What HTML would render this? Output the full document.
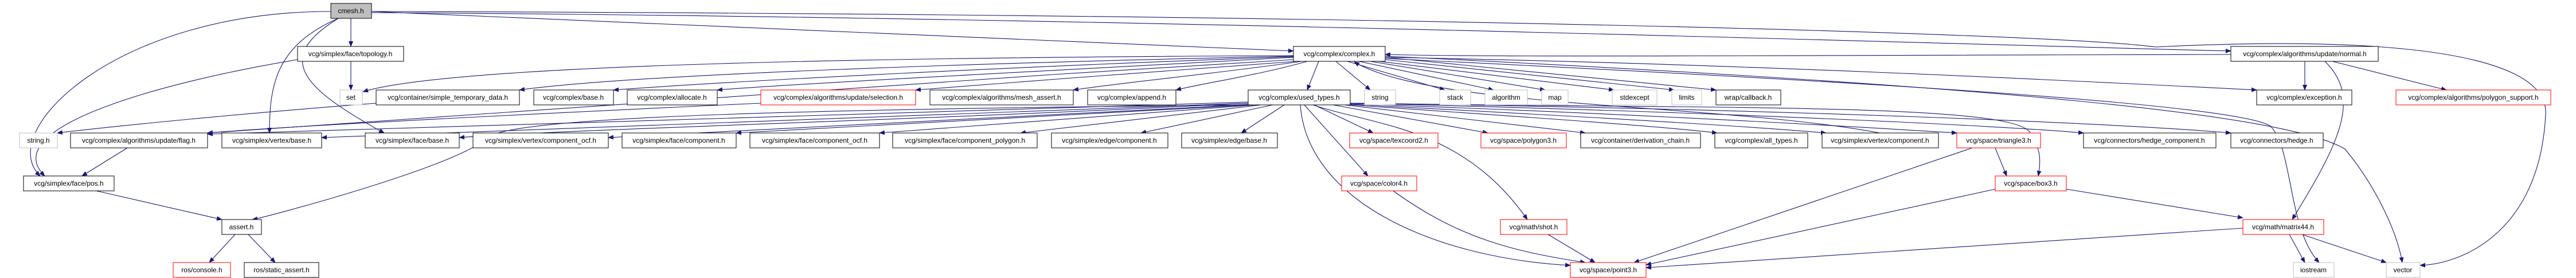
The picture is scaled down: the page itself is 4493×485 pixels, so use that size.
<!DOCTYPE html>
<html><head><meta charset="utf-8"><style>
html,body{margin:0;padding:0;background:#fff;}
svg{display:block;}
text{font-family:"Liberation Sans",sans-serif;font-size:12px;fill:#000;}
.e{fill:none;stroke:#191970;stroke-width:1.1;marker-end:url(#a);}
.n{fill:#fff;stroke:#000;stroke-width:1;}
.r{fill:#fff;stroke:#ff0000;stroke-width:1;}
.g{fill:#fff;stroke:#bfbfbf;stroke-width:1;}
</style></head><body>
<svg width="4493" height="485" viewBox="0 0 4493 485" xmlns="http://www.w3.org/2000/svg">
<defs><marker id="a" markerWidth="10" markerHeight="8" refX="9" refY="4" orient="auto" markerUnits="userSpaceOnUse"><path d="M0,0 L10,4 L0,8 z" fill="#191970"/></marker></defs>
<g>
<path class="e" d="M612,32 L612,81"/>
<path class="e" d="M577,20 C200,20 -10,230 70,307"/>
<path class="e" d="M519,104 C300,140 -10,220 78,307"/>
<path class="e" d="M590,32 C480,80 470,150 470,232"/>
<path class="e" d="M590,32 C480,100 520,150 670,232"/>
<path class="e" d="M648,20 L2256,89"/>
<path class="e" d="M648,22 C2000,30 3500,80 3891,89"/>
<path class="e" d="M648,20 C2500,25 3600,60 3760,82 C3900,75 4450,50 4440,200 C4430,400 4300,460 4221,463"/>
<path class="e" d="M612,107 L612,157"/>
<path class="e" d="M2256,97 C1600,100 800,110 633,160"/>
<path class="e" d="M2256,98 C1700,110 1100,130 906,157"/>
<path class="e" d="M2256,99 C1800,115 1300,140 1070,157"/>
<path class="e" d="M2256,100 C1900,120 1400,145 1251,157"/>
<path class="e" d="M2262,107 C2100,120 1800,140 1597,157"/>
<path class="e" d="M2270,107 C2150,125 1950,145 1872,157"/>
<path class="e" d="M2280,107 C2200,130 2100,145 2051,157"/>
<path class="e" d="M2300,107 L2280,157"/>
<path class="e" d="M2330,107 L2390,157"/>
<path class="e" d="M2350,107 L2520,157"/>
<path class="e" d="M2370,107 L2605,157"/>
<path class="e" d="M2390,107 L2695,157"/>
<path class="e" d="M2405,107 L2815,157"/>
<path class="e" d="M2416,104 L2920,157"/>
<path class="e" d="M2416,100 L2993,157"/>
<path class="e" d="M2416,100 C3000,110 3600,140 3936,157"/>
<path class="e" d="M2416,102 C3200,140 3900,180 3960,220 C4000,260 3990,400 4045,458"/>
<path class="e" d="M2416,98 C3500,150 3990,200 4090,260 C4140,320 4180,400 4190,458"/>
<path class="e" d="M3891,95 C3000,97 2600,100 2416,95"/>
<path class="e" d="M3279,232 C3000,180 2500,190 2362,108"/>
<path class="e" d="M656,180 C400,200 200,220 100,232"/>
<path class="e" d="M1327,180 C900,200 500,220 362,232"/>
<path class="e" d="M2256,104 C1500,150 600,210 362,232"/>
<path class="e" d="M2177,178 C1500,200 600,225 362,234"/>
<path class="e" d="M2177,180 C1500,205 800,230 561,240"/>
<path class="e" d="M2177,180 C1600,210 1000,225 801,240"/>
<path class="e" d="M2177,183 C1500,190 900,200 850,240 C800,290 460,380 440,383"/>
<path class="e" d="M2177,182 C1700,210 1200,230 1061,240"/>
<path class="e" d="M2180,183 C1800,205 1400,225 1284,232"/>
<path class="e" d="M2190,183 C1900,205 1650,222 1534,232"/>
<path class="e" d="M2200,183 L1780,232"/>
<path class="e" d="M2220,183 L1990,232"/>
<path class="e" d="M2240,183 L2165,232"/>
<path class="e" d="M2292,183 L2395,232"/>
<path class="e" d="M2325,183 L2595,232"/>
<path class="e" d="M2345,183 L2765,232"/>
<path class="e" d="M2355,183 C2600,200 2900,220 2995,232"/>
<path class="e" d="M2355,182 C2700,200 3050,220 3185,232"/>
<path class="e" d="M2355,181 C2900,200 3300,225 3413,232"/>
<path class="e" d="M2355,180 C3000,195 3500,220 3634,232"/>
<path class="e" d="M2355,180 C3100,190 3700,215 3891,232"/>
<path class="e" d="M2355,180 C3000,190 3500,180 3540,230 C3560,260 3560,280 3555,307"/>
<path class="e" d="M2275,183 L2386,307"/>
<path class="e" d="M2290,183 C2400,220 2550,220 2664,383"/>
<path class="e" d="M2268,183 C2280,350 2500,450 2739,463"/>
<path class="e" d="M222,258 L143,307"/>
<path class="e" d="M168,333 L387,383"/>
<path class="e" d="M410,409 L365,458"/>
<path class="e" d="M433,409 L480,458"/>
<path class="e" d="M2430,333 C2550,420 2650,440 2765,458"/>
<path class="e" d="M2700,409 L2782,458"/>
<path class="e" d="M3440,258 L2850,458"/>
<path class="e" d="M3480,258 L3500,307"/>
<path class="e" d="M3480,330 L2871,462"/>
<path class="e" d="M3604,330 L3912,380"/>
<path class="e" d="M3912,398 L2871,467"/>
<path class="e" d="M3993,409 L4020,458"/>
<path class="e" d="M4015,409 L4162,458"/>
<path class="e" d="M4020,107 L4020,157"/>
<path class="e" d="M4068,107 L4267,157"/>
<path class="e" d="M4055,107 C4120,170 4080,250 3998,383"/>
</g>
<g>
<rect x="577" y="6" width="71" height="26" fill="#bfbfbf" stroke="#000"/><text x="612" y="23" text-anchor="middle">cmesh.h</text>
<rect class="n" x="519" y="81" width="185" height="26"/><text x="611" y="98" text-anchor="middle">vcg/simplex/face/topology.h</text>
<rect class="n" x="2256" y="81" width="160" height="26"/><text x="2336" y="98" text-anchor="middle">vcg/complex/complex.h</text>
<rect class="n" x="3891" y="81" width="257" height="26"/><text x="4020" y="98" text-anchor="middle">vcg/complex/algorithms/update/normal.h</text>

<rect class="g" x="593" y="157" width="39" height="26"/><text x="612" y="174" text-anchor="middle">set</text>
<rect class="n" x="656" y="157" width="250" height="26"/><text x="781" y="174" text-anchor="middle">vcg/container/simple_temporary_data.h</text>
<rect class="n" x="931" y="157" width="139" height="26"/><text x="1000" y="174" text-anchor="middle">vcg/complex/base.h</text>
<rect class="n" x="1094" y="157" width="157" height="26"/><text x="1172" y="174" text-anchor="middle">vcg/complex/allocate.h</text>
<rect class="r" x="1327" y="157" width="270" height="26"/><text x="1462" y="174" text-anchor="middle">vcg/complex/algorithms/update/selection.h</text>
<rect class="n" x="1622" y="157" width="250" height="26"/><text x="1747" y="174" text-anchor="middle">vcg/complex/algorithms/mesh_assert.h</text>
<rect class="n" x="1897" y="157" width="154" height="26"/><text x="1974" y="174" text-anchor="middle">vcg/complex/append.h</text>
<rect class="n" x="2177" y="157" width="178" height="26"/><text x="2266" y="174" text-anchor="middle">vcg/complex/used_types.h</text>
<rect class="g" x="2380" y="157" width="54" height="26"/><text x="2407" y="174" text-anchor="middle">string</text>
<rect class="g" x="2511" y="157" width="54" height="26"/><text x="2538" y="174" text-anchor="middle">stack</text>
<rect class="g" x="2590" y="157" width="74" height="26"/><text x="2627" y="174" text-anchor="middle">algorithm</text>
<rect class="g" x="2689" y="157" width="46" height="26"/><text x="2712" y="174" text-anchor="middle">map</text>
<rect class="g" x="2812" y="157" width="78" height="26"/><text x="2851" y="174" text-anchor="middle">stdexcept</text>
<rect class="g" x="2916" y="157" width="52" height="26"/><text x="2942" y="174" text-anchor="middle">limits</text>
<rect class="n" x="2993" y="157" width="113" height="26"/><text x="3049" y="174" text-anchor="middle">wrap/callback.h</text>
<rect class="n" x="3936" y="157" width="166" height="26"/><text x="4019" y="174" text-anchor="middle">vcg/complex/exception.h</text>
<rect class="r" x="4179" y="157" width="270" height="26"/><text x="4314" y="174" text-anchor="middle">vcg/complex/algorithms/polygon_support.h</text>

<rect class="g" x="34" y="232" width="66" height="26"/><text x="67" y="249" text-anchor="middle">string.h</text>
<rect class="n" x="123" y="232" width="239" height="26"/><text x="242" y="249" text-anchor="middle">vcg/complex/algorithms/update/flag.h</text>
<rect class="n" x="387" y="232" width="174" height="26"/><text x="474" y="249" text-anchor="middle">vcg/simplex/vertex/base.h</text>
<rect class="n" x="637" y="232" width="164" height="26"/><text x="719" y="249" text-anchor="middle">vcg/simplex/face/base.h</text>
<rect class="n" x="825" y="232" width="236" height="26"/><text x="943" y="249" text-anchor="middle">vcg/simplex/vertex/component_ocf.h</text>
<rect class="n" x="1085" y="232" width="199" height="26"/><text x="1184" y="249" text-anchor="middle">vcg/simplex/face/component.h</text>
<rect class="n" x="1308" y="232" width="226" height="26"/><text x="1421" y="249" text-anchor="middle">vcg/simplex/face/component_ocf.h</text>
<rect class="n" x="1557" y="232" width="252" height="26"/><text x="1683" y="249" text-anchor="middle">vcg/simplex/face/component_polygon.h</text>
<rect class="n" x="1834" y="232" width="203" height="26"/><text x="1935" y="249" text-anchor="middle">vcg/simplex/edge/component.h</text>
<rect class="n" x="2061" y="232" width="167" height="26"/><text x="2144" y="249" text-anchor="middle">vcg/simplex/edge/base.h</text>
<rect class="r" x="2354" y="232" width="154" height="26"/><text x="2431" y="249" text-anchor="middle">vcg/space/texcoord2.h</text>
<rect class="r" x="2583" y="232" width="149" height="26"/><text x="2657" y="249" text-anchor="middle">vcg/space/polygon3.h</text>
<rect class="n" x="2757" y="232" width="209" height="26"/><text x="2861" y="249" text-anchor="middle">vcg/container/derivation_chain.h</text>
<rect class="n" x="2991" y="232" width="162" height="26"/><text x="3072" y="249" text-anchor="middle">vcg/complex/all_types.h</text>
<rect class="n" x="3178" y="232" width="203" height="26"/><text x="3279" y="249" text-anchor="middle">vcg/simplex/vertex/component.h</text>
<rect class="r" x="3413" y="232" width="146" height="26"/><text x="3486" y="249" text-anchor="middle">vcg/space/triangle3.h</text>
<rect class="n" x="3634" y="232" width="231" height="26"/><text x="3749" y="249" text-anchor="middle">vcg/connectors/hedge_component.h</text>
<rect class="n" x="3891" y="232" width="161" height="26"/><text x="3971" y="249" text-anchor="middle">vcg/connectors/hedge.h</text>

<rect class="n" x="41" y="307" width="158" height="26"/><text x="120" y="324" text-anchor="middle">vcg/simplex/face/pos.h</text>
<rect class="r" x="2340" y="307" width="131" height="26"/><text x="2405" y="324" text-anchor="middle">vcg/space/color4.h</text>
<rect class="r" x="3480" y="307" width="124" height="26"/><text x="3542" y="324" text-anchor="middle">vcg/space/box3.h</text>

<rect class="n" x="387" y="383" width="69" height="26"/><text x="421" y="400" text-anchor="middle">assert.h</text>
<rect class="r" x="2617" y="383" width="116" height="26"/><text x="2675" y="400" text-anchor="middle">vcg/math/shot.h</text>
<rect class="r" x="3912" y="383" width="141" height="26"/><text x="3982" y="400" text-anchor="middle">vcg/math/matrix44.h</text>

<rect class="r" x="302" y="458" width="100" height="26"/><text x="352" y="475" text-anchor="middle">ros/console.h</text>
<rect class="n" x="426" y="458" width="130" height="26"/><text x="491" y="475" text-anchor="middle">ros/static_assert.h</text>
<rect class="r" x="2739" y="458" width="132" height="26"/><text x="2805" y="475" text-anchor="middle">vcg/space/point3.h</text>
<rect class="g" x="4000" y="458" width="71" height="26"/><text x="4035" y="475" text-anchor="middle">iostream</text>
<rect class="g" x="4162" y="458" width="59" height="26"/><text x="4191" y="475" text-anchor="middle">vector</text>
</g>
</svg>
</body></html>
